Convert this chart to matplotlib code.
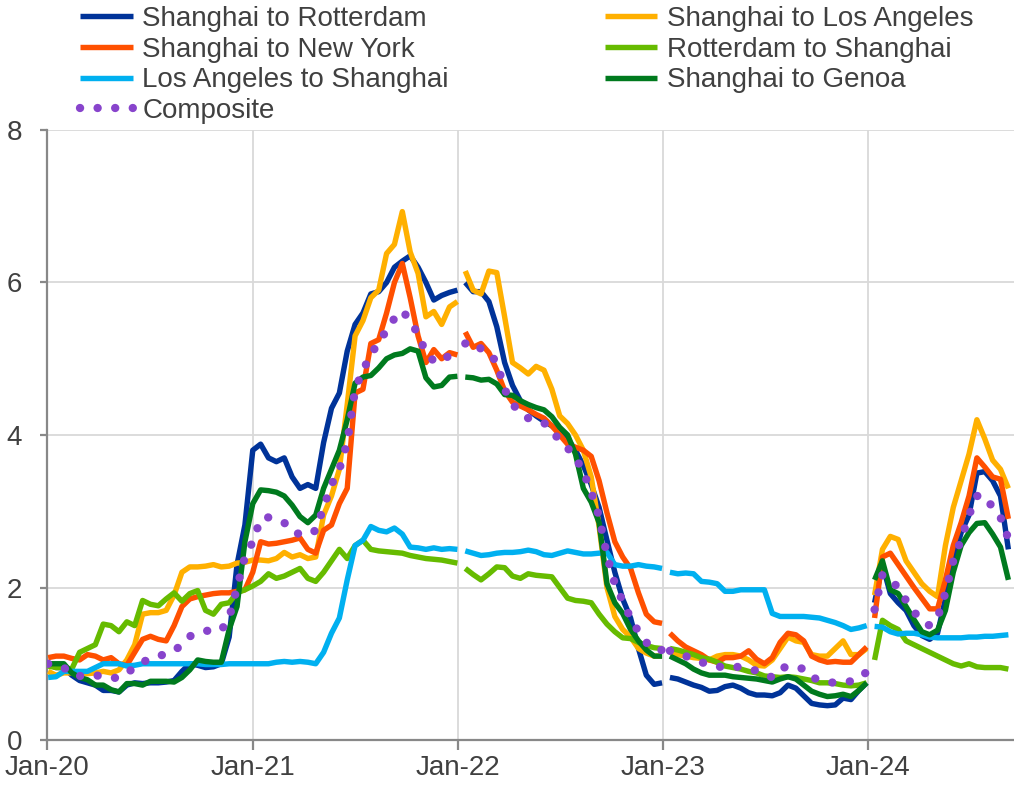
import numpy as np
import pandas as pd
import matplotlib
matplotlib.use('Agg')
import matplotlib.pyplot as plt
import matplotlib.dates as mdates

plt.rcParams['font.family'] = ['Liberation Sans', 'DejaVu Sans']

# fortnightly observations, Jan 2020 - Sep 2024
dates = pd.date_range('2020-01-03', periods=123, freq='14D')

sh_rotterdam = [
    1.0, 0.95, 0.95, 0.85, 0.78, 0.75, 0.72, 0.65, 0.65, 0.63, 0.72, 0.75, 0.74, 0.75, 0.75, 0.76, 0.78, 0.9, 1.0, 0.98, 0.95, 0.96, 1.0, 1.35, 2.3, 2.82,
    3.8, 3.88, 3.7, 3.65, 3.7, 3.45, 3.3, 3.35, 3.3, 3.9, 4.35, 4.55, 5.1, 5.45, 5.6, 5.85, 5.88, 6.0, 6.2, 6.28, 6.35, 6.2, 6.0, 5.77, 5.83, 5.87, 5.9,
    6.0, 5.88, 5.88, 5.75, 5.42, 4.95, 4.65, 4.45, 4.33, 4.25, 4.18, 4.12, 4.03, 3.95, 3.8, 3.6, 3.35, 3.05, 2.62, 2.2, 1.85, 1.6, 1.2, 0.85, 0.73, 0.75,
    0.82, 0.8, 0.76, 0.72, 0.69, 0.64, 0.65, 0.7, 0.72, 0.68, 0.62, 0.59, 0.59, 0.58, 0.62, 0.72, 0.68, 0.58, 0.48, 0.46, 0.45, 0.46, 0.55, 0.53, 0.65, 0.75,
    1.8, 2.3, 1.92, 1.8, 1.7, 1.5, 1.37, 1.32, 1.4, 1.85, 2.36, 2.72, 2.95, 3.5, 3.52, 3.4, 3.2, 2.5]
sh_losangeles = [
    0.9, 0.85, 0.88, 0.88, 0.87, 0.87, 0.88, 0.9, 0.88, 0.92, 1.05, 1.25, 1.65, 1.67, 1.67, 1.7, 1.9, 2.2, 2.27, 2.27, 2.28, 2.3, 2.27, 2.28, 2.32, 2.33,
    2.36, 2.36, 2.35, 2.38, 2.46, 2.4, 2.43, 2.38, 2.4, 2.95, 3.2, 3.55, 4.4, 5.3, 5.5, 5.8, 5.9, 6.38, 6.5, 6.93, 6.4, 6.12, 5.55, 5.62, 5.45, 5.68, 5.75,
    6.15, 5.9, 5.85, 6.15, 6.13, 5.55, 4.95, 4.88, 4.8, 4.9, 4.85, 4.6, 4.25, 4.15, 4.0, 3.8, 3.45, 2.8, 2.0, 1.62, 1.45, 1.35, 1.2, 1.14, 1.1, 1.1,
    1.15, 1.12, 1.1, 1.08, 1.07, 1.05, 1.1, 1.12, 1.12, 1.1, 1.05, 0.98, 0.97, 1.05, 1.2, 1.35, 1.3, 1.28, 1.12, 1.1, 1.1, 1.2, 1.3, 1.12, 1.12, 1.2,
    1.9, 2.5, 2.67, 2.63, 2.35, 2.2, 2.05, 1.95, 1.88, 2.55, 3.05, 3.4, 3.75, 4.2, 3.95, 3.67, 3.55, 3.3]
sh_newyork = [
    1.08, 1.1, 1.1, 1.07, 1.05, 1.12, 1.1, 1.05, 1.08, 1.0, 0.98, 1.15, 1.32, 1.36, 1.32, 1.3, 1.5, 1.75, 1.85, 1.88, 1.9, 1.92, 1.93, 1.93, 1.95, 1.97,
    2.2, 2.6, 2.57, 2.58, 2.6, 2.62, 2.65, 2.5, 2.45, 2.75, 2.82, 3.1, 3.3, 4.55, 4.6, 5.2, 5.25, 5.6, 6.0, 6.25, 5.8, 5.3, 4.95, 5.12, 5.0, 5.08, 5.05,
    5.35, 5.15, 5.2, 5.08, 4.85, 4.58, 4.43, 4.38, 4.33, 4.27, 4.22, 4.12, 4.0, 3.88, 3.84, 3.8, 3.72, 3.4, 2.98, 2.6, 2.4, 2.25, 1.93, 1.65, 1.55, 1.53,
    1.4, 1.3, 1.22, 1.17, 1.12, 1.05, 1.02, 1.08, 1.08, 1.1, 1.17, 1.06, 1.0, 1.08, 1.28, 1.4, 1.38, 1.3, 1.1, 1.05, 1.02, 1.03, 1.02, 1.02, 1.12, 1.22,
    1.6, 2.4, 2.45, 2.3, 2.15, 2.0, 1.86, 1.72, 1.72, 2.1, 2.55, 2.85, 3.2, 3.7, 3.58, 3.45, 3.42, 2.9]
rotterdam_sh = [
    0.97, 0.95, 0.95, 0.93, 1.15, 1.2, 1.25, 1.52, 1.5, 1.42, 1.55, 1.5, 1.83, 1.78, 1.76, 1.85, 1.93, 1.82, 1.92, 1.96, 1.7, 1.65, 1.78, 1.8, 1.93, 1.97,
    2.02, 2.08, 2.18, 2.12, 2.15, 2.2, 2.25, 2.12, 2.08, 2.2, 2.35, 2.5, 2.38, 2.55, 2.62, 2.5, 2.48, 2.47, 2.46, 2.45, 2.42, 2.4, 2.38, 2.37, 2.36, 2.34, 2.32,
    2.25, 2.17, 2.1, 2.18, 2.27, 2.26, 2.15, 2.12, 2.18, 2.16, 2.15, 2.14, 2.0, 1.86, 1.83, 1.82, 1.8, 1.65, 1.52, 1.42, 1.34, 1.33, 1.28, 1.24, 1.21, 1.2,
    1.2, 1.18, 1.15, 1.12, 1.08, 1.06, 1.02, 0.97, 0.95, 0.93, 0.9, 0.88, 0.84, 0.83, 0.82, 0.83, 0.82, 0.8, 0.78, 0.75, 0.75, 0.74, 0.72, 0.71, 0.72, 0.75,
    1.05, 1.57, 1.5, 1.45, 1.3, 1.25, 1.2, 1.15, 1.1, 1.05, 1.0, 0.97, 1.0, 0.96, 0.95, 0.95, 0.95, 0.93]
losangeles_sh = [
    0.82, 0.83, 0.9, 0.9, 0.9, 0.9, 0.95, 1.0, 1.0, 1.0, 0.97, 0.98, 1.0, 1.0, 1.0, 1.0, 1.0, 1.0, 1.0, 1.0, 0.99, 0.99, 0.99, 1.0, 1.0, 1.0,
    1.0, 1.0, 1.0, 1.02, 1.03, 1.02, 1.03, 1.02, 1.0, 1.15, 1.4, 1.6, 2.1, 2.55, 2.62, 2.8, 2.75, 2.73, 2.78, 2.7, 2.53, 2.52, 2.5, 2.52, 2.5, 2.51, 2.5,
    2.48, 2.45, 2.42, 2.43, 2.45, 2.46, 2.46, 2.47, 2.49, 2.47, 2.43, 2.42, 2.45, 2.48, 2.46, 2.44, 2.44, 2.45, 2.46, 2.3, 2.28, 2.28, 2.3, 2.28, 2.27, 2.25,
    2.2, 2.18, 2.19, 2.18, 2.08, 2.07, 2.05, 1.95, 1.95, 1.97, 1.97, 1.97, 1.97, 1.66, 1.62, 1.62, 1.62, 1.62, 1.61, 1.6, 1.57, 1.54, 1.5, 1.45, 1.47, 1.5,
    1.49, 1.48, 1.42, 1.39, 1.4, 1.4, 1.38, 1.35, 1.34, 1.34, 1.34, 1.34, 1.35, 1.35, 1.36, 1.36, 1.37, 1.38]
sh_genoa = [
    1.0, 1.0, 1.0, 0.88, 0.82, 0.79, 0.72, 0.72, 0.66, 0.63, 0.74, 0.74, 0.72, 0.77, 0.77, 0.77, 0.76, 0.82, 0.92, 1.05, 1.03, 1.02, 1.02, 1.45, 1.75, 2.6,
    3.1, 3.28, 3.27, 3.25, 3.2, 3.08, 2.93, 2.85, 2.95, 3.3, 3.55, 3.8, 4.2, 4.68, 4.76, 4.78, 4.88, 5.0, 5.05, 5.07, 5.13, 5.1, 4.75, 4.63, 4.65, 4.76, 4.77,
    4.76, 4.75, 4.72, 4.73, 4.67, 4.53, 4.52, 4.45, 4.4, 4.36, 4.33, 4.24, 4.1, 4.0, 3.75, 3.3, 3.12, 2.85, 2.05, 1.8, 1.66, 1.45, 1.3, 1.18, 1.1, 1.1,
    1.1, 1.05, 1.0, 0.93, 0.88, 0.85, 0.85, 0.85, 0.83, 0.82, 0.81, 0.8, 0.78, 0.76, 0.8, 0.83, 0.8, 0.72, 0.64, 0.6, 0.57, 0.58, 0.6, 0.57, 0.65, 0.75,
    2.1, 2.35, 1.97, 1.92, 1.75, 1.58, 1.42, 1.38, 1.44, 1.7, 2.2, 2.55, 2.72, 2.84, 2.85, 2.7, 2.53, 2.1]
composite = [
    1.0, 0.97, 0.95, 0.86, 0.84, 0.84, 0.85, 0.83, 0.81, 0.82, 0.88, 0.95, 1.02, 1.07, 1.1, 1.13, 1.17, 1.25, 1.36, 1.4, 1.43, 1.44, 1.44, 1.6, 2.0, 2.4,
    2.6, 2.9, 2.92, 2.88, 2.85, 2.73, 2.7, 2.69, 2.75, 3.05, 3.35, 3.55, 3.9, 4.6, 4.85, 5.05, 5.22, 5.37, 5.53, 5.63, 5.5, 5.32, 5.08, 4.97, 4.96, 5.05, 5.12,
    5.2, 5.22, 5.13, 5.08, 4.95, 4.6, 4.4, 4.3, 4.22, 4.19, 4.16, 4.05, 3.93, 3.83, 3.7, 3.52, 3.25, 2.93, 2.42, 2.05, 1.82, 1.6, 1.42, 1.28, 1.18, 1.18,
    1.17, 1.13, 1.1, 1.06, 1.02, 0.99, 0.96, 0.96, 0.97, 0.95, 0.93, 0.91, 0.87, 0.82, 0.93, 0.97, 0.96, 0.93, 0.82, 0.79, 0.76, 0.75, 0.76, 0.77, 0.82, 0.89,
    1.71, 2.17, 2.1, 2.0, 1.83, 1.68, 1.57, 1.5, 1.6, 1.93, 2.35, 2.63, 2.95, 3.2, 3.2, 3.05, 2.92, 2.64]

# the source series break at the turn of these years
year_breaks = ['2022-01-01', '2023-01-01', '2024-01-01']

series = [
    ('Shanghai to Rotterdam', sh_rotterdam, '#003399', '-'),
    ('Shanghai to New York', sh_newyork, '#ff5000', '-'),
    ('Los Angeles to Shanghai', losangeles_sh, '#00b0f0', '-'),
    ('Composite', composite, '#8844cc', ':'),
    ('Shanghai to Los Angeles', sh_losangeles, '#ffb000', '-'),
    ('Rotterdam to Shanghai', rotterdam_sh, '#66bb00', '-'),
    ('Shanghai to Genoa', sh_genoa, '#007a1e', '-'),
]
draw_order = [0, 4, 1, 5, 2, 6, 3]

fig = plt.figure(figsize=(10.14, 7.87), dpi=100)
ax = fig.add_axes([47 / 1014, 1 - 740 / 787, 967 / 1014, 610 / 787])

edges = [pd.Timestamp('2019-01-01')] + [pd.Timestamp(b) for b in year_breaks] + [pd.Timestamp('2030-01-01')]
handles = [None] * len(series)
for i in draw_order:
    name, vals, color, ls = series[i]
    s = pd.Series(vals, index=dates)
    for a, b in zip(edges[:-1], edges[1:]):
        seg = s[(s.index >= a) & (s.index < b)]
        if ls == ':':
            ln, = ax.plot(seg.index, seg.values, color=color, lw=6.0,
                          linestyle=(0, (0.01, 2.1)), dash_capstyle='round', zorder=5)
        else:
            ln, = ax.plot(seg.index, seg.values, color=color, lw=3.9,
                          solid_capstyle='butt', solid_joinstyle='round', zorder=3)
        if handles[i] is None:
            handles[i] = ln

ax.set_ylim(0, 8)
ax.set_yticks([0, 2, 4, 6, 8])
ax.set_xlim(pd.Timestamp('2020-01-01'), pd.Timestamp('2024-09-16'))
ax.xaxis.set_major_locator(mdates.YearLocator())
ax.xaxis.set_major_formatter(mdates.DateFormatter('%b-%y'))

ax.grid(True, color='#d9d9d9', lw=1.3)
ax.set_axisbelow(True)
for sp in ['top', 'right']:
    ax.spines[sp].set_visible(False)
for sp in ['left', 'bottom']:
    ax.spines[sp].set_color('#888888')
    ax.spines[sp].set_linewidth(1.6)
ax.tick_params(axis='y', direction='out', length=5, width=1.6, color='#888888',
               labelsize=20, labelcolor='#404040', pad=13)
ax.tick_params(axis='x', direction='out', length=7, width=1.6, color='#888888',
               labelsize=20, labelcolor='#404040', pad=4)

fig.legend(handles=handles, labels=[s[0] for s in series], loc='upper left',
           bbox_to_anchor=(80 / 1014, 1 - 6 / 787), ncol=2, frameon=False,
           fontsize=20, labelcolor='#404040', handlelength=1.9, handletextpad=0.35,
           columnspacing=5.6, labelspacing=0.17, borderpad=0, borderaxespad=0)

fig.savefig('out.png', dpi=100)
